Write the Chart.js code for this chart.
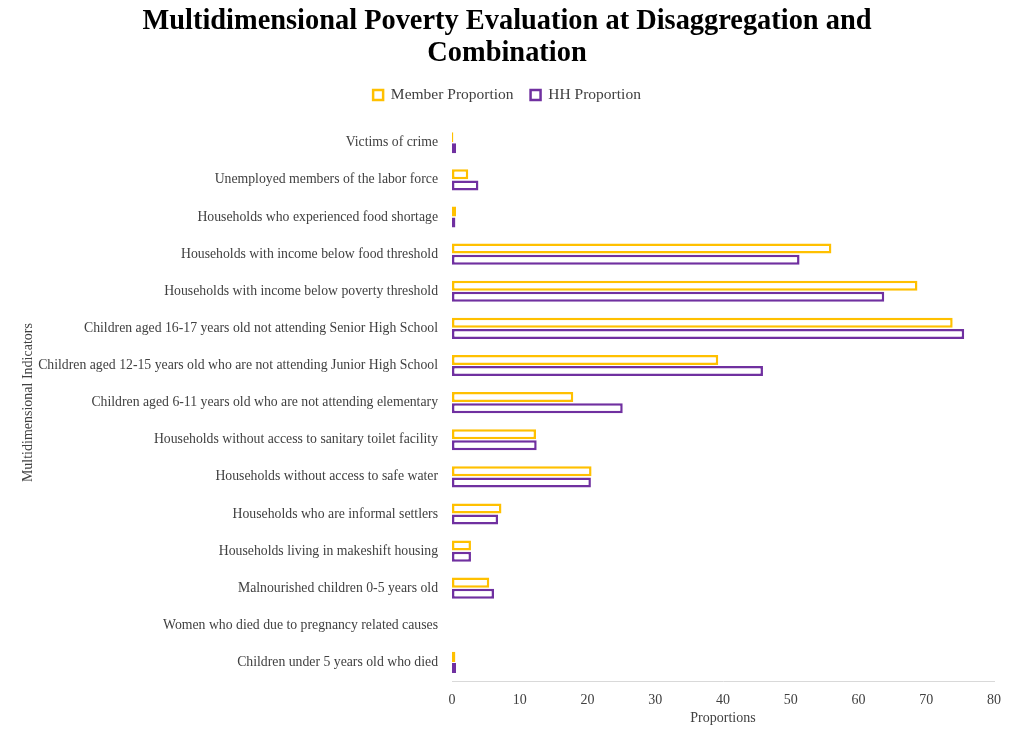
<!DOCTYPE html>
<html>
<head>
<meta charset="utf-8">
<script src="https://cdn.jsdelivr.net/npm/chart.js@4.4.1/dist/chart.umd.min.js"></script>
<style>
    html, body { margin: 0; padding: 0; background: #ffffff; }
    #wrap { width: 1024px; height: 736px; }
</style>
</head>
<body>
<div id="wrap"><canvas id="bar-chart" width="1024" height="736"></canvas></div>
<script>
const indicators = [
    "Victims of crime",
    "Unemployed members of the labor force",
    "Households who experienced food shortage",
    "Households with income below food threshold",
    "Households with income below poverty threshold",
    "Children aged 16-17 years old not attending Senior High School",
    "Children aged 12-15 years old who are not attending Junior High School",
    "Children aged 6-11 years old who are not attending elementary",
    "Households without access to sanitary toilet facility",
    "Households without access to safe water",
    "Households who are informal settlers",
    "Households living in makeshift housing",
    "Malnourished children 0-5 years old",
    "Women who died due to pregnancy related causes",
    "Children under 5 years old who died"
]

const memberProportion = [0.2, 2.4, 0.6, 56.0, 68.7, 73.9, 39.3, 17.9, 12.4, 20.6, 7.3, 2.8, 5.5, 0, 0.5]
const hhProportion = [0.6, 3.9, 0.5, 51.3, 63.8, 75.6, 45.9, 25.2, 12.5, 20.5, 6.8, 2.8, 6.2, 0, 0.6]

const xTicks = [0, 10, 20, 30, 40, 50, 60, 70, 80]

const serif = "'Liberation Serif', 'DejaVu Serif', serif"

Chart.defaults.font.family = serif
Chart.defaults.color = "#404040"

// a bit more room between the legend and the bars
const legendGap = {
    id: "legendGap",
    beforeInit(chart) {
        const fit = chart.legend.fit
        chart.legend.fit = function () {
            fit.call(this)
            this.height += 11.5
        }
    }
}

const Graphics = {
    ctx: document.getElementById("bar-chart"),

    optionsChart: {
        type: "bar",
        data: {
            labels: indicators,
            datasets: [
                {
                    label: "Member Proportion",
                    data: memberProportion,
                    borderWidth: 2.5,
                    borderColor: "#ffc000",
                    backgroundColor: "#ffffff",
                    borderSkipped: false
                },
                {
                    label: "HH Proportion",
                    data: hhProportion,
                    borderWidth: 2.5,
                    borderColor: "#7030a0",
                    backgroundColor: "#ffffff",
                    borderSkipped: false
                }
            ]
        },
        plugins: [legendGap],
        options: {
            indexAxis: "y",
            responsive: false,
            animation: false,
            categoryPercentage: 0.6,
            barPercentage: 0.9,
            layout: {
                padding: { left: 20, right: 30, top: 6, bottom: 11 }
            },
            plugins: {
                title: {
                    display: true,
                    text: ["Multidimensional Poverty Evaluation at Disaggregation and", "Combination"],
                    color: "#000000",
                    font: { size: 28.4, weight: "bold", family: serif, lineHeight: 1.13 },
                    padding: { top: 0, bottom: 0 }
                },
                legend: {
                    display: true,
                    labels: {
                        boxWidth: 10,
                        boxHeight: 10,
                        color: "#404040",
                        font: { size: 15.5, family: serif },
                        padding: 17
                    }
                },
                tooltip: { enabled: false }
            },
            scales: {
                x: {
                    min: 0,
                    max: 80,
                    afterBuildTicks(scale) {
                        scale.ticks = xTicks.map((v) => ({ value: v }))
                    },
                    grid: { display: false, drawTicks: true, tickLength: 12 },
                    border: { display: true, color: "#d9d9d9", width: 1 },
                    ticks: {
                        color: "#404040",
                        font: { size: 14, family: serif, lineHeight: 1 },
                        padding: 0
                    },
                    title: {
                        display: true,
                        text: "Proportions",
                        color: "#404040",
                        font: { size: 14, family: serif, lineHeight: 1 },
                        padding: { top: 4, bottom: 0 }
                    }
                },
                y: {
                    afterFit(scale) {
                        scale.width = 432
                    },
                    grid: { display: false, drawTicks: false },
                    border: { display: false },
                    ticks: {
                        color: "#404040",
                        font: { size: 13.75, family: serif },
                        padding: 14,
                        autoSkip: false
                    },
                    title: {
                        display: true,
                        text: "Multidimensional Indicators",
                        color: "#404040",
                        font: { size: 14, family: serif },
                        padding: { top: 0, bottom: 0 }
                    }
                }
            }
        }
    }
}

let barChart = new Chart(Graphics.ctx, Graphics.optionsChart)
</script>
</body>
</html>
